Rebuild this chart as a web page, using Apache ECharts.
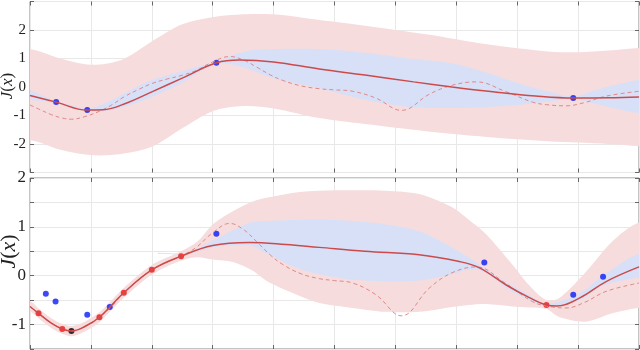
<!DOCTYPE html>
<html>
<head>
<meta charset="utf-8">
<script src="https://cdn.jsdelivr.net/npm/echarts@6/dist/echarts.min.js"></script>
<style>
  html, body { margin: 0; padding: 0; background: #fff; }
  #chart { width: 640px; height: 350px; }
</style>
</head>
<body>
<div id="chart"></div>
<script>
// true objective J(x) (dashed), same in both panels
const trueX = [0, 0.14, 0.35, 0.53, 0.68, 0.9, 1.14, 1.35, 1.54, 1.77, 2.0, 2.25, 2.48, 2.73, 3.0, 3.28, 3.5, 3.72, 3.95, 4.15, 4.45, 4.75, 5.0, 5.3, 5.68, 6.1, 6.56, 6.93, 7.33, 7.8, 8.25, 8.48, 8.8, 9.1, 9.46, 10]
const trueY = [-0.63, -0.77, -0.97, -1.09, -1.13, -1.04, -0.85, -0.62, -0.35, -0.1, 0.12, 0.28, 0.4, 0.58, 0.88, 1.07, 0.95, 0.7, 0.42, 0.23, 0.04, -0.06, -0.1, -0.15, -0.39, -0.82, -0.25, 0.06, 0.18, -0.15, -0.53, -0.62, -0.66, -0.55, -0.32, -0.15]

// top panel
const topMeanX = [0, 0.43, 0.94, 1.2, 1.6, 2.0, 2.5, 3.06, 3.44, 4.0, 4.75, 5.5, 6.3, 6.93, 7.6, 8.3, 8.92, 9.5, 10]
const topMeanY = [-0.3, -0.53, -0.81, -0.8, -0.55, -0.17, 0.31, 0.85, 0.95, 0.88, 0.63, 0.42, 0.18, 0.0, -0.17, -0.32, -0.39, -0.38, -0.35]
const topPinkX = [0, 0.5, 1.0, 1.5, 2.0, 2.5, 3.0, 3.5, 4.0, 4.75, 5.5, 6.5, 7.5, 8.5, 9.0, 9.5, 10]
const topPinkHi = [1.33, 1.0, 0.78, 0.95, 1.6, 2.2, 2.45, 2.55, 2.55, 2.35, 2.15, 1.85, 1.5, 1.25, 1.22, 1.28, 1.37]
const topPinkLo = [-1.86, -2.2, -2.39, -2.35, -2.1, -1.45, -0.85, -0.67, -0.75, -1.09, -1.3, -1.55, -1.75, -1.9, -1.95, -2.0, -2.07]
const topBlueX = [0, 0.2, 0.43, 0.7, 0.94, 1.3, 1.7, 2.0, 2.5, 2.8, 3.06, 3.3, 3.6, 4.0, 4.75, 5.5, 6.2, 6.9, 7.5, 8.0, 8.5, 8.92, 9.3, 9.7, 10]
const topBlueHi = [-0.12, -0.3, -0.5, -0.65, -0.78, -0.5, -0.05, 0.25, 0.55, 0.75, 0.88, 1.1, 1.28, 1.33, 1.33, 1.2, 1.0, 0.84, 0.5, 0.14, -0.15, -0.34, -0.1, 0.12, 0.25]
const topBlueLo = [-0.46, -0.5, -0.56, -0.72, -0.84, -0.82, -0.6, -0.35, 0.15, 0.55, 0.82, 0.8, 0.62, 0.3, -0.04, -0.45, -0.7, -0.74, -0.7, -0.63, -0.52, -0.42, -0.6, -0.8, -0.91]
const topObsX = [0.43, 0.94, 3.06, 8.92]
const topObsY = [-0.53, -0.81, 0.85, -0.39]
const topTickLabels = [-2, -1, 0, 1, 2]

// bottom panel
const botMeanX = [0, 0.14, 0.35, 0.53, 0.68, 0.9, 1.14, 1.54, 2.0, 2.48, 3.0, 3.6, 4.2, 4.75, 5.5, 6.39, 7.05, 7.38, 7.82, 8.2, 8.48, 8.65, 9.02, 9.46, 10]
const botMeanY = [-0.63, -0.77, -0.97, -1.09, -1.13, -1.04, -0.85, -0.35, 0.12, 0.4, 0.62, 0.68, 0.64, 0.58, 0.5, 0.43, 0.29, 0.16, -0.19, -0.45, -0.6, -0.62, -0.46, -0.12, 0.18]
const botPinkX = [0, 0.14, 0.35, 0.53, 0.68, 0.9, 1.14, 1.54, 2.0, 2.48, 2.75, 3.0, 3.33, 3.66, 3.9, 4.4, 4.75, 5.3, 5.84, 6.39, 6.93, 7.2, 7.49, 7.92, 8.2, 8.48, 8.7, 9.13, 9.56, 10]
const botPinkHi = [-0.53, -0.67, -0.87, -0.99, -1.03, -0.94, -0.75, -0.25, 0.22, 0.5, 0.7, 1.05, 1.32, 1.52, 1.6, 1.71, 1.74, 1.75, 1.74, 1.67, 1.4, 1.15, 0.85, 0.23, -0.2, -0.5, -0.45, 0.08, 0.7, 1.09]
const botPinkLo = [-0.74, -0.87, -1.07, -1.19, -1.24, -1.14, -0.95, -0.45, 0.02, 0.31, 0.38, 0.33, 0.28, 0.1, -0.12, -0.4, -0.56, -0.66, -0.74, -0.74, -0.64, -0.6, -0.58, -0.63, -0.65, -0.68, -0.85, -0.94, -0.77, -0.66]
const botBlueX = [2.6, 3.0, 3.6, 3.9, 4.3, 4.75, 5.3, 5.84, 6.39, 6.93, 7.27, 7.5, 7.82, 8.2, 8.48, 9.0, 9.41, 10]
const botBlueHi = [0.47, 0.72, 1.08, 1.12, 1.14, 1.15, 1.12, 1.05, 0.91, 0.58, 0.32, 0.12, -0.13, -0.4, -0.58, -0.38, 0.0, 0.45]
const botBlueLo = [0.45, 0.58, 0.62, 0.45, 0.2, 0.03, -0.08, -0.12, -0.1, 0.03, 0.13, 0.05, -0.25, -0.5, -0.62, -0.52, -0.2, -0.04]
const botObsX = [0.26, 0.42, 0.94, 1.31, 3.06, 7.46, 8.92, 9.41]
const botObsY = [-0.37, -0.53, -0.8, -0.64, 0.86, 0.27, -0.39, -0.02]
const botEvalX = [0.14, 0.53, 1.14, 1.54, 2.0, 2.48, 8.48]
const botEvalY = [-0.77, -1.09, -0.85, -0.35, 0.12, 0.4, -0.6]
const bestX = [0.68]
const bestY = [-1.13]
const botTickLabels = [-1, 0, 1, 2]

const serif = 'Liberation Serif'
const pairs = (xs, ys) => xs.map((x, i) => [x, ys[i]])

const chart = echarts.init(document.getElementById('chart'))

function band(ax, xs, hi, lo, color) {
  return {
    type: 'custom',
    xAxisIndex: ax,
    yAxisIndex: ax,
    clip: true,
    silent: true,
    data: [0],
    renderItem: function (params, api) {
      const n = xs.length
      const pts = [api.coord([xs[0] - 0.5, hi[0]])]
      for (let i = 0; i < n; i++) pts.push(api.coord([xs[i], hi[i]]))
      pts.push(api.coord([xs[n - 1] + 0.5, hi[n - 1]]))
      pts.push(api.coord([xs[n - 1] + 0.5, lo[n - 1]]))
      for (let i = n - 1; i >= 0; i--) pts.push(api.coord([xs[i], lo[i]]))
      pts.push(api.coord([xs[0] - 0.5, lo[0]]))
      return {
        type: 'polygon',
        shape: { points: pts, smooth: 0.3 },
        style: { fill: color }
      }
    }
  }
}

function line(ax, xs, ys, dashed) {
  return {
    type: 'line',
    xAxisIndex: ax,
    yAxisIndex: ax,
    data: pairs(xs, ys),
    smooth: 0.4,
    showSymbol: false,
    silent: true,
    lineStyle: dashed
      ? { color: '#de8a8a', width: 1, type: [4, 3] }
      : { color: '#cc4a4a', width: 1.5 }
  }
}

function dots(ax, xs, ys, color) {
  return {
    type: 'scatter',
    xAxisIndex: ax,
    yAxisIndex: ax,
    data: pairs(xs, ys),
    symbolSize: 6,
    silent: true,
    itemStyle: { color: color }
  }
}

const tickStyle = { show: true, inside: true, length: 4, lineStyle: { color: '#666' } }
const gridLine = { show: true, lineStyle: { color: '#e8e8e8', width: 1 } }

function xAxes(gi) {
  return [
    {
      gridIndex: gi, type: 'value', min: 0, max: 10, interval: 1,
      axisLine: { show: false, onZero: false }, axisTick: tickStyle,
      axisLabel: { show: false }, splitLine: gridLine
    },
    {
      gridIndex: gi, type: 'value', position: 'top', min: 0, max: 10, interval: 1,
      axisLine: { show: false, onZero: false }, axisTick: tickStyle,
      axisLabel: { show: false }, splitLine: { show: false }
    }
  ]
}

function yAxes(gi, min, max, interval, labels, fontSize, nameSize, nameGap, namePad) {
  return [
    {
      gridIndex: gi, type: 'value', min: min, max: max, interval: interval,
      axisLine: { show: false, onZero: false }, axisTick: tickStyle,
      axisLabel: {
        fontFamily: serif, fontSize: fontSize, color: '#222', margin: 4,
        formatter: (v) => labels.includes(v) ? String(v) : ''
      },
      splitLine: gridLine,
      name: '{i|J}({i|x})',
      nameLocation: 'middle',
      nameRotate: 90,
      nameGap: nameGap,
      nameMoveOverlap: false,
      nameTextStyle: {
        fontFamily: serif, fontSize: nameSize, color: '#222',
        padding: [0, 0, 0, namePad],
        rich: { i: { fontFamily: serif, fontStyle: 'italic', fontSize: nameSize, color: '#222' } }
      }
    },
    {
      gridIndex: gi, type: 'value', position: 'right', min: min, max: max, interval: interval,
      axisLine: { show: false, onZero: false }, axisTick: tickStyle,
      axisLabel: { show: false }, splitLine: { show: false }
    }
  ]
}

const gridBase = { left: 30, right: 1, show: true, borderColor: '#8a8a8a', borderWidth: 1, backgroundColor: 'transparent', outerBoundsMode: 'none', containLabel: false }

const option = {
  animation: false,
  backgroundColor: '#fff',
  grid: [
    { ...gridBase, top: 1.5, height: 171 },
    { ...gridBase, top: 178, height: 171 }
  ],
  xAxis: [...xAxes(0), ...xAxes(1)],
  yAxis: [...yAxes(0, -3, 3, 1, topTickLabels, 15, 17, 14, 2), ...yAxes(1, -1.5, 2, 0.5, botTickLabels, 17, 22, 10, 24)],
  series: [
    band(0, topPinkX, topPinkHi, topPinkLo, '#f6dcdc'),
    band(0, topBlueX, topBlueHi, topBlueLo, '#d8e0f7'),
    line(0, trueX, trueY, true),
    line(0, topMeanX, topMeanY, false),
    dots(0, topObsX, topObsY, '#0a1cf5'),

    band(2, botPinkX, botPinkHi, botPinkLo, '#f6dcdc'),
    band(2, botBlueX, botBlueHi, botBlueLo, '#d8e0f7'),
    line(2, trueX, trueY, true),
    line(2, botMeanX, botMeanY, false),
    dots(2, botObsX, botObsY, '#0a1cf5'),
    dots(2, botEvalX, botEvalY, '#f01414'),
    dots(2, bestX, bestY, '#000000')
  ]
}

chart.setOption(option)
</script>
</body>
</html>
